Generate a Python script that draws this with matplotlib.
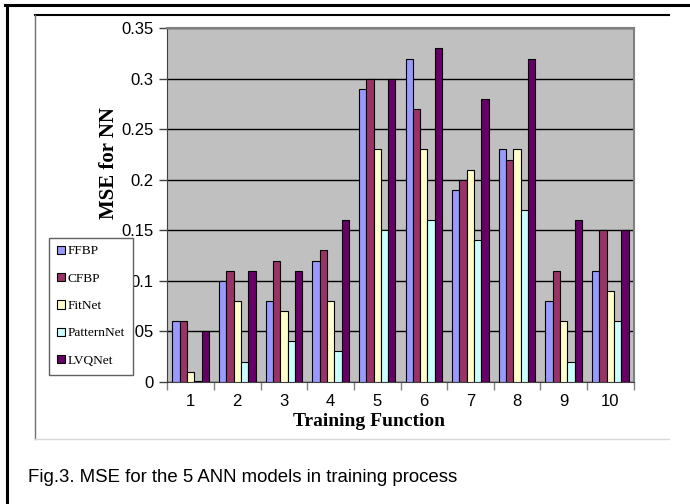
import matplotlib.pyplot as plt
import numpy as np
from matplotlib.lines import Line2D

# data
categories = [1, 2, 3, 4, 5, 6, 7, 8, 9, 10]
series_names = ['FFBP', 'CFBP', 'FitNet', 'PatternNet', 'LVQNet']
ffbp = [0.06, 0.10, 0.08, 0.12, 0.29, 0.32, 0.19, 0.23, 0.08, 0.11]
cfbp = [0.06, 0.11, 0.12, 0.13, 0.30, 0.27, 0.20, 0.22, 0.11, 0.15]
fitnet = [0.01, 0.08, 0.07, 0.08, 0.23, 0.23, 0.21, 0.23, 0.06, 0.09]
patternnet = [0.001, 0.02, 0.04, 0.03, 0.15, 0.16, 0.14, 0.17, 0.02, 0.06]
lvqnet = [0.05, 0.11, 0.11, 0.16, 0.30, 0.33, 0.28, 0.32, 0.16, 0.15]
y_ticks = [0, 0.05, 0.1, 0.15, 0.2, 0.25, 0.3, 0.35]
y_labels = ['0', '0.05', '0.1', '0.15', '0.2', '0.25', '0.3', '0.35']

colors = ['#9999FF', '#993366', '#FFFFCC', '#CCFFFF', '#660066']
serif = ['Liberation Serif', 'DejaVu Serif']
sans = ['Liberation Sans', 'DejaVu Sans']

fig = plt.figure(figsize=(6.9, 5.04), dpi=100, facecolor='white')
W, H = 690.0, 504.0

# plot area in pixels: left 167, right 634, top 28, bottom 382
ax = fig.add_axes([167.3 / W, 1 - 381.7 / H, 466.4 / W, 353.4 / H])
ax.set_facecolor('#C0C0C0')

x = np.array(categories, dtype=float)
bw = 0.157
all_series = [ffbp, cfbp, fitnet, patternnet, lvqnet]
bars = []
for k, vals in enumerate(all_series):
    b = ax.bar(x + (k - 2) * bw, vals, width=bw, color=colors[k],
               edgecolor='black', linewidth=0.8, zorder=3, label=series_names[k])
    bars.append(b)

ax.set_xlim(0.5, 10.5)
ax.set_ylim(0, 0.35)
ax.set_yticks(y_ticks)
ax.set_yticklabels(y_labels, family=sans, fontsize=12)
ax.yaxis.grid(True, color='black', linewidth=1.0, zorder=1)

# ticks sit between the categories, labels at the centres
ax.set_xticks(np.arange(0.5, 11, 1.0))
ax.set_xticklabels([])
ax.set_xticks(x, minor=True)
ax.set_xticklabels([str(c) for c in categories], minor=True, family=sans, fontsize=12)
ax.tick_params(axis='x', which='minor', length=0, pad=9)
ax.tick_params(axis='x', which='major', length=6, color='#808080', width=1)
ax.tick_params(axis='y', length=6, width=1, color='#404040', pad=4)

for s in ['top', 'right']:
    ax.spines[s].set_color('#808080')
    ax.spines[s].set_linewidth(1.5)
ax.spines['left'].set_color('#404040')
ax.spines['bottom'].set_color('#404040')

fig.text(109.5 / W, 1 - 163 / H, 'MSE for NN', rotation=90, ha='center', va='center',
         family=serif, fontweight='bold', fontsize=15)
fig.text(369 / W, 1 - 421 / H, 'Training Function', ha='center', va='center',
         family=serif, fontweight='bold', fontsize=14)

leg = fig.legend(handles=bars, labels=series_names, loc='upper left',
                 bbox_to_anchor=(49 / W, 1 - 237.5 / H), bbox_transform=fig.transFigure,
                 prop={'family': serif, 'size': 9.6}, frameon=True, fancybox=False,
                 edgecolor='#606060', framealpha=1, handlelength=0.6, handleheight=0.6,
                 handletextpad=0.2, labelspacing=1.15, borderpad=0.6, borderaxespad=0)
leg.get_frame().set_linewidth(1.0)

# frames around the chart image
fig.add_artist(Line2D([5 / W, 1], [1 - 4.5 / H] * 2, color='black', linewidth=2.2))
fig.add_artist(Line2D([6.5 / W] * 2, [0, 1 - 4.5 / H], color='black', linewidth=2.2))
fig.add_artist(Line2D([35 / W, 669 / W], [1 - 15 / H] * 2, color='black', linewidth=1.5))
fig.add_artist(Line2D([35 / W] * 2, [1 - 15 / H, 1 - 439 / H], color='#707070', linewidth=1.0))
fig.add_artist(Line2D([35 / W, 669 / W], [1 - 439 / H] * 2, color='#D8D8D8', linewidth=1.0))

fig.text(28 / W, 1 - 478 / H, 'Fig.3. MSE for the 5 ANN models in training process',
         ha='left', va='center', family=sans, fontsize=13.4)

fig.savefig('out.png', dpi=100)
